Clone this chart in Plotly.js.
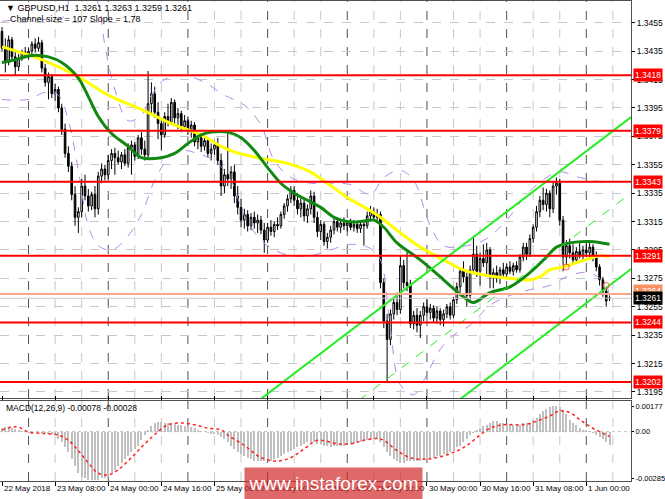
<!DOCTYPE html>
<html><head><meta charset="utf-8">
<script src="https://cdn.plot.ly/plotly-3.0.1.min.js"></script>
<style>html,body{margin:0;padding:0;background:#fff;}#chart{width:665px;height:499px;}</style>
</head><body><div id="chart"></div>
<script>
// ---------- data ----------
const barOpen = [1.3449,1.3437,1.3427,1.3443,1.3431,1.3424,1.3430,1.3434,1.3432,1.3435,1.3440,1.3437,1.3441,1.3423,1.3413,1.3417,1.3405,1.3408,1.3395,1.3380,1.3363,1.3354,1.3334,1.3318,1.3322,1.3340,1.3333,1.3326,1.3334,1.3324,1.3347,1.3352,1.3348,1.3358,1.3363,1.3360,1.3357,1.3362,1.3356,1.3367,1.3369,1.3361,1.3374,1.3366,1.3362,1.3398,1.3405,1.3392,1.3384,1.3376,1.3389,1.3385,1.3399,1.3388,1.3391,1.3382,1.3386,1.3380,1.3383,1.3371,1.3374,1.3368,1.3372,1.3363,1.3366,1.3369,1.3358,1.3340,1.3348,1.3345,1.3350,1.3333,1.3325,1.3316,1.3320,1.3312,1.3318,1.3314,1.3316,1.3309,1.3302,1.3311,1.3308,1.3313,1.3312,1.3320,1.3326,1.3331,1.3337,1.3330,1.3324,1.3328,1.3319,1.3324,1.3333,1.3318,1.3308,1.3313,1.3301,1.3304,1.3309,1.3315,1.3311,1.3314,1.3312,1.3314,1.3311,1.3313,1.3310,1.3313,1.3312,1.3319,1.3322,1.3318,1.3320,1.3272,1.3245,1.3232,1.3250,1.3258,1.3253,1.3284,1.3272,1.3270,1.3243,1.3249,1.3242,1.3249,1.3255,1.3251,1.3254,1.3247,1.3252,1.3246,1.3250,1.3255,1.3249,1.3260,1.3269,1.3280,1.3276,1.3263,1.3281,1.3292,1.3280,1.3289,1.3286,1.3295,1.3276,1.3279,1.3275,1.3281,1.3278,1.3283,1.3280,1.3284,1.3281,1.3290,1.3297,1.3292,1.3303,1.3311,1.3322,1.3330,1.3327,1.3335,1.3324,1.3340,1.3342,1.3316,1.3290,1.3298,1.3293,1.3288,1.3294,1.3291,1.3295,1.3293,1.3297,1.3290,1.3283,1.3274,1.3266,1.3261];
const barHigh = [1.3452,1.3444,1.3446,1.3445,1.3436,1.3433,1.3436,1.3438,1.3437,1.3442,1.3444,1.3445,1.3443,1.3426,1.3420,1.3419,1.3412,1.3410,1.3398,1.3384,1.3368,1.3357,1.3340,1.3325,1.3345,1.3348,1.3338,1.3336,1.3340,1.3350,1.3356,1.3355,1.3362,1.3366,1.3367,1.3365,1.3364,1.3366,1.3370,1.3372,1.3371,1.3376,1.3378,1.3372,1.3421,1.3413,1.3410,1.3399,1.3388,1.3392,1.3398,1.3402,1.3401,1.3395,1.3393,1.3390,1.3389,1.3386,1.3385,1.3378,1.3377,1.3375,1.3374,1.3370,1.3372,1.3374,1.3363,1.3352,1.3378,1.3354,1.3355,1.3340,1.3331,1.3324,1.3323,1.3321,1.3322,1.3320,1.3319,1.3314,1.3314,1.3316,1.3315,1.3318,1.3322,1.3328,1.3334,1.3340,1.3340,1.3335,1.3332,1.3331,1.3327,1.3337,1.3336,1.3322,1.3316,1.3315,1.3307,1.3312,1.3318,1.3318,1.3317,1.3318,1.3316,1.3317,1.3316,1.3315,1.3316,1.3315,1.3322,1.3326,1.3325,1.3324,1.3322,1.3275,1.3250,1.3253,1.3262,1.3265,1.3291,1.3288,1.3295,1.3274,1.3252,1.3254,1.3252,1.3258,1.3260,1.3257,1.3256,1.3255,1.3254,1.3253,1.3257,1.3258,1.3262,1.3272,1.3283,1.3287,1.3279,1.3284,1.3305,1.3298,1.3293,1.3299,1.3300,1.3297,1.3282,1.3284,1.3283,1.3286,1.3285,1.3287,1.3286,1.3287,1.3292,1.3300,1.3300,1.3306,1.3313,1.3326,1.3333,1.3339,1.3338,1.3337,1.3343,1.3346,1.3345,1.3319,1.3302,1.3303,1.3299,1.3297,1.3300,1.3298,1.3301,1.3300,1.3299,1.3294,1.3285,1.3276,1.3268,1.3263];
const barLow = [1.3435,1.3420,1.3425,1.3428,1.3418,1.3421,1.3428,1.3430,1.3429,1.3433,1.3434,1.3435,1.3420,1.3410,1.3401,1.3402,1.3400,1.3392,1.3376,1.3360,1.3350,1.3330,1.3312,1.3307,1.3318,1.3330,1.3322,1.3323,1.3318,1.3320,1.3342,1.3344,1.3345,1.3352,1.3348,1.3355,1.3352,1.3354,1.3353,1.3348,1.3358,1.3359,1.3362,1.3358,1.3360,1.3390,1.3388,1.3373,1.3365,1.3374,1.3382,1.3383,1.3384,1.3380,1.3378,1.3379,1.3376,1.3374,1.3368,1.3366,1.3364,1.3365,1.3360,1.3358,1.3362,1.3355,1.3333,1.3335,1.3340,1.3338,1.3328,1.3320,1.3311,1.3310,1.3308,1.3309,1.3310,1.3307,1.3306,1.3293,1.3300,1.3305,1.3304,1.3309,1.3310,1.3317,1.3322,1.3328,1.3326,1.3320,1.3318,1.3315,1.3314,1.3320,1.3314,1.3304,1.3302,1.3298,1.3296,1.3300,1.3306,1.3308,1.3307,1.3309,1.3308,1.3309,1.3308,1.3307,1.3307,1.3298,1.3310,1.3315,1.3316,1.3314,1.3268,1.3240,1.3202,1.3228,1.3246,1.3249,1.3250,1.3268,1.3266,1.3240,1.3239,1.3237,1.3233,1.3245,1.3248,1.3246,1.3244,1.3243,1.3242,1.3241,1.3247,1.3246,1.3247,1.3257,1.3265,1.3272,1.3255,1.3260,1.3278,1.3276,1.3270,1.3283,1.3278,1.3268,1.3268,1.3272,1.3271,1.3276,1.3275,1.3278,1.3277,1.3279,1.3279,1.3287,1.3288,1.3290,1.3300,1.3308,1.3318,1.3323,1.3322,1.3318,1.3321,1.3334,1.3312,1.3280,1.3284,1.3289,1.3285,1.3286,1.3289,1.3287,1.3290,1.3288,1.3287,1.3280,1.3270,1.3262,1.3255,1.3259];
const barClose = [1.3437,1.3427,1.3443,1.3431,1.3424,1.3430,1.3434,1.3432,1.3435,1.3440,1.3437,1.3441,1.3423,1.3413,1.3417,1.3405,1.3408,1.3395,1.3380,1.3363,1.3354,1.3334,1.3318,1.3322,1.3340,1.3333,1.3326,1.3334,1.3324,1.3347,1.3352,1.3348,1.3358,1.3363,1.3360,1.3357,1.3362,1.3356,1.3367,1.3369,1.3361,1.3374,1.3366,1.3362,1.3398,1.3405,1.3392,1.3384,1.3376,1.3389,1.3385,1.3399,1.3388,1.3391,1.3382,1.3386,1.3380,1.3383,1.3371,1.3374,1.3368,1.3372,1.3363,1.3366,1.3369,1.3358,1.3340,1.3348,1.3345,1.3350,1.3333,1.3325,1.3316,1.3320,1.3312,1.3318,1.3314,1.3316,1.3309,1.3302,1.3311,1.3308,1.3313,1.3312,1.3320,1.3326,1.3331,1.3337,1.3330,1.3324,1.3328,1.3319,1.3324,1.3333,1.3318,1.3308,1.3313,1.3301,1.3304,1.3309,1.3315,1.3311,1.3314,1.3312,1.3314,1.3311,1.3313,1.3310,1.3313,1.3312,1.3319,1.3322,1.3318,1.3320,1.3272,1.3245,1.3232,1.3250,1.3258,1.3253,1.3284,1.3272,1.3270,1.3243,1.3249,1.3242,1.3249,1.3255,1.3251,1.3254,1.3247,1.3252,1.3246,1.3250,1.3255,1.3249,1.3260,1.3269,1.3280,1.3276,1.3263,1.3281,1.3292,1.3280,1.3289,1.3286,1.3295,1.3276,1.3279,1.3275,1.3281,1.3278,1.3283,1.3280,1.3284,1.3281,1.3290,1.3297,1.3292,1.3303,1.3311,1.3322,1.3330,1.3327,1.3335,1.3324,1.3340,1.3342,1.3316,1.3290,1.3298,1.3293,1.3288,1.3294,1.3291,1.3295,1.3293,1.3297,1.3290,1.3283,1.3274,1.3266,1.3259,1.3261];

const macdHist = [0.0002,0.00025,0.00026,0.00022,0.00015,0.0001,
 0.00005,-0.00002,-0.00005,-0.00005,-0.00003,-0.00002,-0.00006,-0.0001,-0.00012,-0.00015,
 -0.0002,-0.0004,-0.0006,-0.0009,-0.0012,-0.0016,-0.0020,-0.0024,-0.0026,-0.0027,-0.0028,-0.0028,-0.0028,-0.0028,-0.0027,-0.0027,-0.0026,
 -0.0024,-0.0022,-0.0020,-0.0018,-0.0016,-0.0014,-0.0012,-0.0010,-0.0008,-0.0005,-0.0002,0.0001,
 0.0003,0.0005,0.00058,0.00055,0.0005,0.00048,
 0.00045,0.00042,0.0004,0.00038,0.00035,0.0003,0.00025,0.0002,0.00012,0.00005,
 -0.00002,-0.00008,-0.00012,-0.00015,-0.0002,-0.0003,
 -0.0004,-0.0006,-0.0008,-0.0010,-0.0012,-0.0013,-0.0014,
 -0.0015,-0.0016,-0.0017,-0.0017,-0.0017,-0.0017,-0.0017,
 -0.0017,-0.0016,-0.0015,-0.0014,-0.0013,-0.0012,
 -0.0011,-0.0010,-0.0009,-0.0008,-0.0007,-0.0006,
 -0.0006,-0.0006,-0.0007,-0.0007,
 -0.0008,-0.0008,-0.0009,-0.0008,-0.0008,-0.0008,-0.0008,
 -0.0007,-0.0007,-0.0007,-0.0006,
 -0.0006,-0.0005,-0.0005,-0.0004,-0.0004,-0.0004,
 -0.0006,-0.0009,
 -0.0012,-0.0014,-0.0016,-0.0017,
 -0.0018,-0.0018,-0.0017,-0.0017,
 -0.0017,-0.0017,-0.0017,-0.0016,
 -0.0016,-0.0015,-0.0015,-0.0014,-0.0014,-0.0013,-0.0013,-0.0012,
 -0.0011,-0.0009,-0.0008,-0.0006,-0.0004,-0.0002,
 -0.0001,0.0001,
 0.0002,0.0003,0.0004,0.0005,0.0006,0.0006,
 0.0005,0.0005,0.0004,0.0004,
 0.0004,0.0004,0.0004,0.0005,0.0005,0.0005,
 0.0007,0.0008,0.0010,0.0012,
 0.0013,0.0014,0.0015,0.0015,
 0.0014,0.0012,0.0010,
 0.0007,0.0005,0.0004,
 0.0002,0.0001,0.0001,0.00005,
 -0.0001,-0.0002,-0.0003,
 -0.0004,-0.0006,-0.00078];

const signalIdx = [0,3,5,8,12,17,20,23,26,29,32,35,39,43,47,50,54,58,62,66,68,73,78,83,87,91,95,101,105,109,113,115,119,123,127,131,136,140,144,147,151,157,161,165,168,171,174,177,180,183];
const signalVal = [0.0001,0.00026,0.00026,-0.00003,-0.0001,-0.0002,-0.0005,-0.0011,-0.0018,-0.0024,-0.0025,-0.0022,-0.0015,-0.0007,0.0000,0.0004,0.0005,0.0004,0.0002,0.0001,-0.0002,-0.0008,-0.0015,-0.0017,-0.0015,-0.0010,-0.0005,-0.0007,-0.0007,-0.0005,-0.0004,-0.0005,-0.0011,-0.0015,-0.0016,-0.0015,-0.0012,-0.0008,-0.0002,0.0002,0.0004,0.0004,0.0006,0.0009,0.0012,0.0011,0.0007,0.0003,0.0000,-0.00028];

const yellowIdx = [0,12,23,32,42,51,60,66,70,77,86,92,98,104,110,114,120,126,133,139,146,153,159,162,165,169,173,177,180,183];
const yellowVal = [1.3438,1.3429,1.3417,1.3404,1.3394,1.3384,1.3376,1.3368,1.3364,1.3360,1.3356,1.3351,1.3342,1.3332,1.3324,1.3318,1.3307,1.3297,1.3288,1.3281,1.3277,1.3275,1.3274,1.3276,1.3281,1.3283,1.3286,1.3289,1.3291,1.3290];
const greenIdx = [0,4,9,14,18,23,26,29,33,38,42,48,52,56,60,63,68,72,76,80,84,88,92,96,100,104,108,112,115,119,126,133,139,142,147,153,159,164,167,171,177,183];
const greenVal = [1.3427,1.3429,1.3432,1.3431,1.3427,1.3416,1.3403,1.3389,1.3377,1.3368,1.3360,1.3360,1.3363,1.3370,1.3376,1.3378,1.3378,1.3374,1.3365,1.3353,1.3342,1.3335,1.3330,1.3325,1.3318,1.3315,1.3315,1.3316,1.3311,1.3300,1.3288,1.3274,1.3262,1.3258,1.3265,1.3269,1.3279,1.3290,1.3297,1.3300,1.3301,1.3299];

const bandUpIdx = [0,9,16,19,21,26,29,31,34,38,42,45,49,55,61,67,73,78,82,87,93,99,105,111,115,120,124,129,133,140,146,152,158,164,168,174,180,183];
const bandUpVal = [1.3456,1.3458,1.3457,1.3460,1.3478,1.3482,1.3468,1.3439,1.3408,1.3386,1.3390,1.3404,1.3415,1.3418,1.3413,1.3404,1.3397,1.3383,1.3358,1.3346,1.3342,1.3342,1.3341,1.3334,1.3346,1.3351,1.3344,1.3312,1.3298,1.3298,1.3303,1.3316,1.3334,1.3346,1.3350,1.3346,1.3343,1.3341];
const bandLoIdx = [0,8,13,17,20,23,26,29,33,37,42,46,51,55,60,64,69,73,78,82,87,93,99,105,111,114,117,120,124,127,132,136,141,147,153,159,165,171,177,182,183];
const bandLoVal = [1.3401,1.3401,1.3406,1.3404,1.3386,1.3351,1.3312,1.3298,1.3295,1.3302,1.3320,1.3344,1.3362,1.3365,1.3362,1.3358,1.3344,1.3319,1.3302,1.3295,1.3291,1.3291,1.3295,1.3299,1.3296,1.3288,1.3239,1.3200,1.3193,1.3203,1.3225,1.3235,1.3242,1.3256,1.3263,1.3267,1.3270,1.3277,1.3279,1.3270,1.3261];

const levelPrices = [1.3418,1.3379,1.3343,1.3291,1.3244,1.3202];
const askPrice = 1.3264, bidPrice = 1.3261;
const channelIdx = [60, 189.5];
const channelUpper = [1.31581, 1.33886];
const channelMid = [1.31046, 1.33351];
const channelLower = [1.30511, 1.32816];
const markIdx = [170, 182];
const markVal = [1.3283, 1.3270];

const priceTicks = [1.3195,1.3215,1.3235,1.3255,1.3275,1.3295,1.3315,1.3335,1.3355,1.3375,1.3395,1.3415,1.3435,1.3455];
const macdTickText = ['0.00177','0.00','-0.00285'];
const timeLabelIdx = [0,16,32,48,64,80,96,112,128,144,160,176];
const timeLabels = ['22 May 2018','23 May 08:00','24 May 00:00','24 May 16:00','25 May 08:00','28 May 00:00','28 May 16:00','29 May 08:00','30 May 00:00','30 May 16:00','31 May 08:00','1 Jun 00:00'];
const dayStartIdx = [8,32,56,80,104,128,152,176];
const headerText = '\u25BC GBPUSD,H1  1.3261 1.3263 1.3259 1.3261';
const channelText = 'Channel size = 107 Slope = 1.78';
const macdText = 'MACD(12,26,9) -0.00078 -0.00028';

// ---------- figure ----------
const FONT = 'Liberation Sans, Arial, sans-serif';
const idx = barOpen.map((_, i) => i);
const traces = [];

traces.push({type:'scatter', mode:'lines', x:bandUpIdx, y:bandUpVal, line:{color:'#b888e8', width:1, dash:'dash', shape:'spline'}, xaxis:'x', yaxis:'y', hoverinfo:'skip'});
traces.push({type:'scatter', mode:'lines', x:bandLoIdx, y:bandLoVal, line:{color:'#b888e8', width:1, dash:'dash', shape:'spline'}, xaxis:'x', yaxis:'y', hoverinfo:'skip'});

traces.push({type:'candlestick', x:idx, open:barOpen, high:barHigh, low:barLow, close:barClose,
  increasing:{line:{color:'#000000', width:1}, fillcolor:'#ffffff'},
  decreasing:{line:{color:'#000000', width:1}, fillcolor:'#000000'},
  whiskerwidth:0, xaxis:'x', yaxis:'y', hoverinfo:'skip'});

traces.push({type:'scatter', mode:'lines', x:yellowIdx, y:yellowVal, line:{color:'#ffff00', width:3, shape:'spline'}, xaxis:'x', yaxis:'y', hoverinfo:'skip'});
traces.push({type:'scatter', mode:'lines', x:greenIdx, y:greenVal, line:{color:'#118811', width:3, shape:'spline'}, xaxis:'x', yaxis:'y', hoverinfo:'skip'});

traces.push({type:'scatter', mode:'lines', x:channelIdx, y:channelUpper, line:{color:'#22ee22', width:2}, xaxis:'x', yaxis:'y', hoverinfo:'skip'});
traces.push({type:'scatter', mode:'lines', x:channelIdx, y:channelMid, line:{color:'#22ee22', width:1, dash:'dash'}, xaxis:'x', yaxis:'y', hoverinfo:'skip'});
traces.push({type:'scatter', mode:'lines', x:channelIdx, y:channelLower, line:{color:'#22ee22', width:2}, xaxis:'x', yaxis:'y', hoverinfo:'skip'});
traces.push({type:'scatter', mode:'markers', x:markIdx, y:markVal, marker:{symbol:'circle-open', size:6, color:'#ff5050', line:{width:1}}, xaxis:'x', yaxis:'y', hoverinfo:'skip'});

traces.push({type:'bar', x:idx, y:macdHist, marker:{color:'#c0c0c0', line:{width:0}}, width:0.6, xaxis:'x', yaxis:'y2', hoverinfo:'skip'});
traces.push({type:'scatter', mode:'lines', x:signalIdx, y:signalVal, line:{color:'#ff2020', width:1.5, dash:'dot', shape:'spline'}, xaxis:'x', yaxis:'y2', hoverinfo:'skip'});

const shapes = [];
// vertical grid every 8 bars, darker at day starts
for (let g = 8; g <= 184; g += 8) {
  const dark = dayStartIdx.includes(g);
  ['y domain','y2 domain'].forEach(r => shapes.push({type:'line', layer:'below', xref:'x', yref:r, x0:g, x1:g, y0:0, y1:1,
    line:{color: dark ? '#505050' : '#c8c8c8', width:1, dash:'dash'}}));
}
// MACD zero level
shapes.push({type:'line', layer:'below', xref:'paper', yref:'y2', x0:0, x1:1, y0:0, y1:0, line:{color:'#c0c0c0', width:1, dash:'dot'}});
// bid / ask
shapes.push({type:'line', layer:'above', xref:'paper', yref:'y', x0:0, x1:1, y0:askPrice, y1:askPrice, line:{color:'#f8a888', width:2}});
shapes.push({type:'line', layer:'above', xref:'paper', yref:'y', x0:0, x1:1, y0:bidPrice, y1:bidPrice, line:{color:'#c8c8c8', width:1}});
// horizontal levels
levelPrices.forEach(p => shapes.push({type:'line', layer:'above', xref:'paper', yref:'y', x0:0, x1:1, y0:p, y1:p, line:{color:'#ff0000', width:2}}));

const annotations = [];
annotations.push({xref:'paper', yref:'paper', x:0.007, y:1-7/480, xanchor:'left', yanchor:'middle', text:headerText, showarrow:false, font:{family:FONT, size:9, color:'#000'}});
annotations.push({xref:'paper', yref:'paper', x:0.012, y:1-18/480, xanchor:'left', yanchor:'middle', text:channelText, showarrow:false, font:{family:FONT, size:9, color:'#000'}});
annotations.push({xref:'paper', yref:'paper', x:0.006, y:(481-408)/480, xanchor:'left', yanchor:'middle', text:macdText, showarrow:false, font:{family:FONT, size:8.5, color:'#000'}});
// level labels
annotations.push({xref:'paper', yref:'y', x:1, y:askPrice, xanchor:'left', xshift:2, yshift:3, text:askPrice.toFixed(4), showarrow:false, bgcolor:'#f89060', borderpad:1, font:{family:FONT, size:8.5, color:'#fff'}});
annotations.push({xref:'paper', yref:'y', x:1, y:bidPrice, xanchor:'left', xshift:2, text:bidPrice.toFixed(4), showarrow:false, bgcolor:'#000000', borderpad:1, font:{family:FONT, size:8.5, color:'#fff'}});
levelPrices.forEach(p => annotations.push({xref:'paper', yref:'y', x:1, y:p, xanchor:'left', xshift:2, text:p.toFixed(4), showarrow:false, bgcolor:'#ff0000', borderpad:1, font:{family:FONT, size:8.5, color:'#fff'}}));
// time labels
timeLabelIdx.forEach((t, k) => annotations.push({xref:'x', yref:'paper', x:t, y:0, xanchor:'left', yanchor:'top', xshift:0, yshift:-1, text:timeLabels[k], showarrow:false, font:{family:FONT, size:8, color:'#000'}}));
// watermark
annotations.push({xref:'paper', yref:'paper', x:333.5/631, y:(481-483.5)/480, xanchor:'center', yanchor:'middle', width:177, height:31, bgcolor:'rgba(210,40,40,0.7)', borderpad:0, text:'www.instaforex.com', showarrow:false, font:{family:FONT, size:19, color:'#ffffff'}});

const layout = {
  width:665, height:499,
  margin:{l:0, r:34, t:1, b:18, pad:0},
  paper_bgcolor:'#ffffff', plot_bgcolor:'#ffffff',
  showlegend:false, hovermode:false, bargap:0,
  xaxis:{domain:[0,1], anchor:'y2', range:[-0.602, 189.46], rangeslider:{visible:false}, showgrid:false, zeroline:false,
    tickmode:'array', tickvals:timeLabelIdx, ticks:'outside', ticklen:4, tickcolor:'#000', showticklabels:false,
    showline:true, linecolor:'#505050', linewidth:1, mirror:'all'},
  yaxis:{domain:[83/480,1], anchor:'x', side:'right', range:[1.319075, 1.347032], tickmode:'array', tickvals:priceTicks,
    ticktext:priceTicks.map(v=>v.toFixed(4)), ticks:'outside', ticklen:3, tickcolor:'#000',
    tickfont:{family:FONT, size:8.5, color:'#000'}, showgrid:true, gridcolor:'#c8c8c8', griddash:'dash', gridwidth:1, zeroline:false,
    showline:true, linecolor:'#505050', linewidth:1, mirror:true},
  yaxis2:{domain:[0,80/480], anchor:'x', side:'right', range:[-0.00285, 0.00177], tickmode:'array', tickvals:[0.00147,0,-0.00268],
    ticktext:macdTickText, ticks:'outside', ticklen:2, tickcolor:'#000', tickfont:{family:FONT, size:7.5, color:'#000'},
    showgrid:false, zeroline:false, showline:true, linecolor:'#505050', linewidth:1, mirror:true},
  shapes:shapes, annotations:annotations
};

Plotly.newPlot('chart', traces, layout, {staticPlot:true, displayModeBar:false});
</script></body></html>
